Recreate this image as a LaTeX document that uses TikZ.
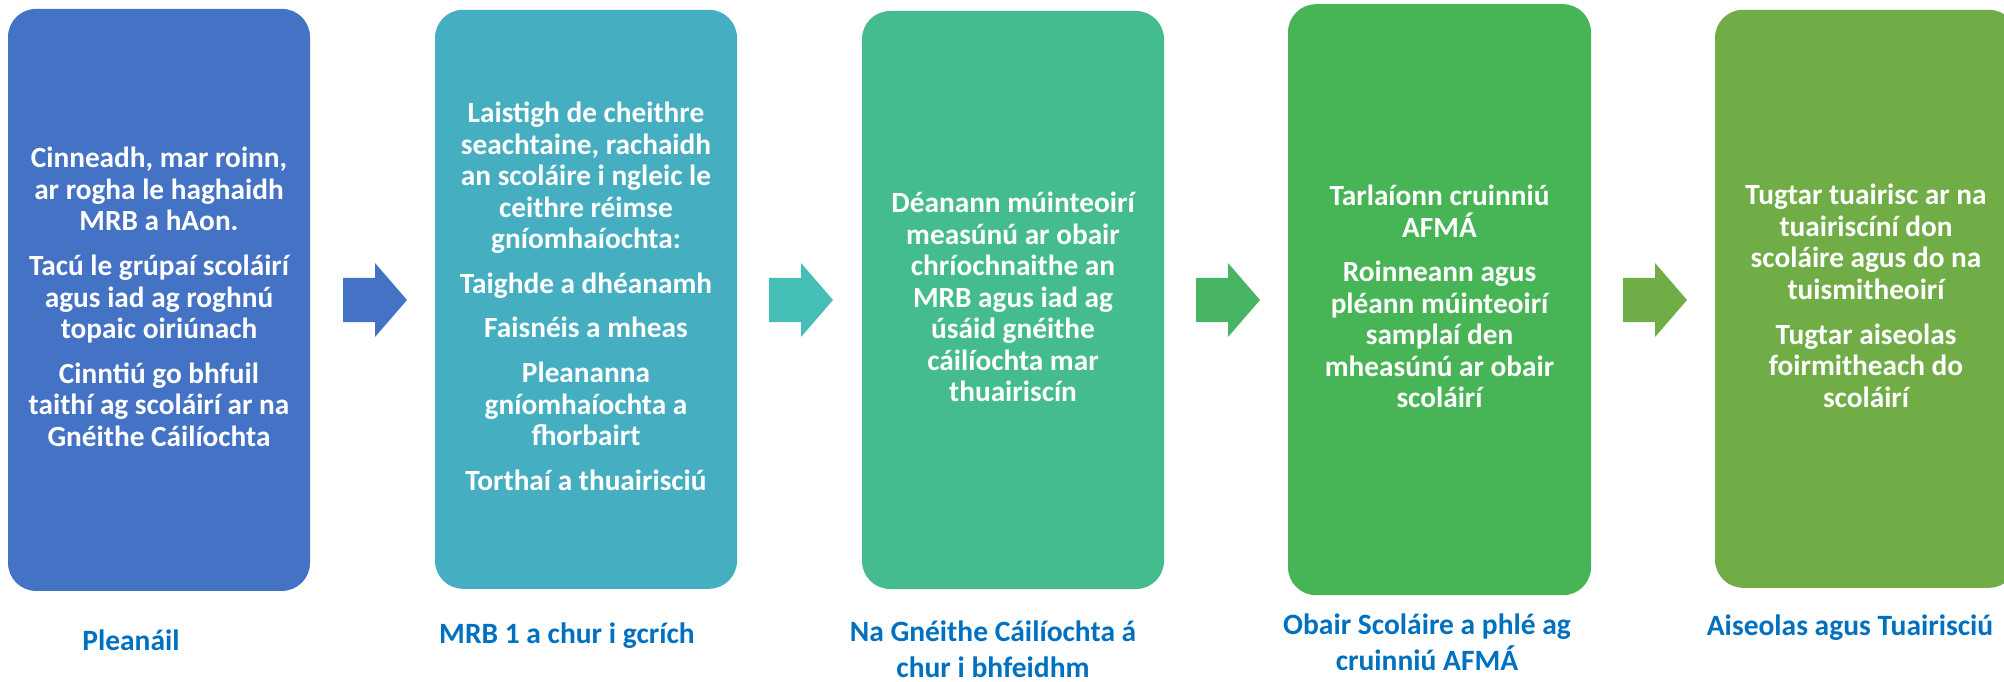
\documentclass[tikz,border=0pt]{standalone}
\usepackage{fontspec}
\setmainfont{Carlito}
\definecolor{cA}{HTML}{4472C4}
\definecolor{cB}{HTML}{46AEC1}
\definecolor{cC}{HTML}{45BC8E}
\definecolor{cD}{HTML}{47B556}
\definecolor{cE}{HTML}{70AD47}
\definecolor{aB}{HTML}{45BFB6}
\definecolor{aC}{HTML}{47B563}
\definecolor{labblue}{HTML}{0070C0}
\tikzset{
  stage/.style={rounded corners=28pt, minimum width=302pt, inner sep=0pt},
  stagetext/.style={inner sep=0pt, align=center, text=white, yshift=3pt,
    font=\fontsize{29.3}{31.5}\selectfont\bfseries},
  lab/.style={text=labblue, align=center, inner sep=0pt, anchor=base,
    font=\fontsize{29.5}{35.5}\selectfont\bfseries},
  pics/barrow/.style={code={
    \fill[#1] (0,-22.2) -- (32,-22.2) -- (32,-37) -- (64,0) -- (32,37) -- (32,22.2) -- (0,22.2) -- cycle;}}
}
\begin{document}
\begin{tikzpicture}[x=1pt,y=-1pt]
\useasboundingbox (0,0) rectangle (2004,682);
\clip (0,0) rectangle (2004,682);

\node[stage, fill=cA, minimum height=582pt] (b1) at (159,299.9) {};
\node[stage, fill=cB, minimum height=579pt] (b2) at (586,299.3) {};
\node[stage, fill=cC, minimum height=578pt] (b3) at (1013,300) {};
\node[stage, fill=cD, minimum width=303pt, minimum height=591pt] (b4) at (1439.5,299.7) {};
\node[stage, fill=cE, minimum height=578pt] (b5) at (1866,298.8) {};

\node[stagetext] (t1) at (b1.center) {%
Cinneadh, mar roinn,\\ar rogha le haghaidh\\MRB a hAon.\\[13.2pt]
Tacú le grúpaí scoláirí\\agus iad ag roghnú\\topaic oiriúnach\\[13.2pt]
Cinntiú go bhfuil\\taithí ag scoláirí ar na\\Gnéithe Cáilíochta};

\node[stagetext] (t2) at (b2.center) {%
Laistigh de cheithre\\seachtaine, rachaidh\\an scoláire i ngleic le\\ceithre réimse\\gníomhaíochta:\\[13.2pt]
Taighde a dhéanamh\\[13.2pt]
Faisnéis a mheas\\[13.2pt]
Pleananna\\gníomhaíochta a\\fhorbairt\\[13.2pt]
Torthaí a thuairisciú};

\node[stagetext] (t3) at (b3.center) {%
Déanann múinteoirí\\measúnú ar obair\\chríochnaithe an\\MRB agus iad ag\\úsáid gnéithe\\cáilíochta mar\\thuairiscín};

\node[stagetext] (t4) at (b4.center) {%
Tarlaíonn cruinniú\\AFMÁ\\[13.2pt]
Roinneann agus\\pléann múinteoirí\\samplaí den\\mheasúnú ar obair\\scoláirí};

\node[stagetext] (t5) at (b5.center) {%
Tugtar tuairisc ar na\\tuairiscíní don\\scoláire agus do na\\tuismitheoirí\\[13.2pt]
Tugtar aiseolas\\foirmitheach do\\scoláirí};

\pic at (343,300) {barrow=cA};
\pic at (769,300) {barrow=aB};
\pic at (1196,300) {barrow=aC};
\pic at (1623,300) {barrow=cE};

\node[lab] (l1) at (131,650) {Pleanáil};
\node[lab] (l2) at (567,643) {MRB 1 a chur i gcrích};
\node[lab] (l3) at (993,677) {Na Gnéithe Cáilíochta á\\chur i bhfeidhm};
\node[lab] (l4) at (1427,670) {Obair Scoláire a phlé ag\\cruinniú AFMÁ};
\node[lab] (l5) at (1850,635) {Aiseolas agus Tuairisciú};
\end{tikzpicture}
\end{document}
